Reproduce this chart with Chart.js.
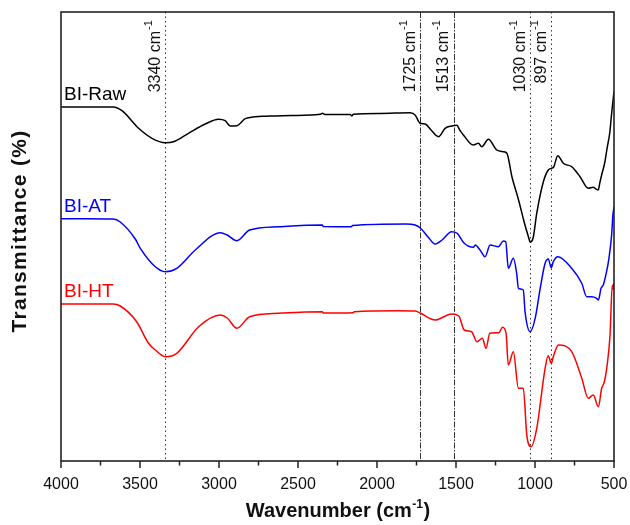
<!DOCTYPE html>
<html>
<head>
<meta charset="utf-8">
<title>FTIR spectra</title>
<script src="https://cdn.jsdelivr.net/npm/chart.js@4.4.0/dist/chart.umd.min.js"></script>
<style>
  body { margin: 0; background: #fff; }
  #wrap { width: 630px; height: 525px; }
</style>
</head>
<body>
<div id="wrap"><canvas id="myChart" width="630" height="525"></canvas></div>
<script>
// Spectra: wavenumber (cm-1) and stacked transmittance (arbitrary units)
const rawWave = [4000, 3846, 3669, 3614, 3509, 3424, 3340, 3288, 3193, 3087, 3003, 2961, 2929, 2887, 2834, 2771, 2708, 2540, 2360, 2345, 2330, 2170, 2160, 2150, 1980, 1790, 1759, 1727, 1695, 1658, 1611, 1569, 1527, 1495, 1474, 1443, 1411, 1390, 1358, 1337, 1295, 1242, 1200, 1178, 1146, 1104, 1067, 1043, 1030, 1012, 989, 947, 916, 897, 882, 856, 821, 768, 715, 663, 631, 614, 599, 590, 575, 559, 542, 527, 517, 506, 500];
const rawT = [354, 354, 354, 350.3, 332.7, 322.7, 318.3, 319.3, 327.7, 337, 341.7, 340.3, 335, 335.3, 342.3, 344.3, 344.7, 345.5, 346.7, 347.8, 346.5, 346.6, 345, 346.8, 347.5, 348.3, 346, 337.7, 337, 331, 324.3, 332.7, 335, 335.7, 330.3, 324, 317.7, 316, 317.7, 314.3, 321.7, 311, 309.3, 307.7, 284.3, 261, 238, 225, 219, 223, 247.7, 279.3, 291, 292.7, 294, 305.3, 297.7, 294.3, 284.3, 272.7, 273.7, 272, 271, 278, 288, 298, 314.3, 328, 344.3, 361, 369.3];

const atWave = [4000, 3846, 3670, 3625, 3530, 3498, 3403, 3340, 3267, 3150, 2991, 2948, 2887, 2806, 2622, 2346, 2340, 2162, 2155, 1816, 1759, 1724, 1677, 1632, 1588, 1528, 1493, 1448, 1390, 1378, 1348, 1316, 1284, 1232, 1200, 1185, 1169, 1137, 1116, 1105, 1074, 1063, 1031, 999, 967, 936, 916, 897, 884, 856, 768, 704, 673, 641, 610, 599, 582, 568, 547, 532, 515, 507, 500];
const atT = [242.3, 242.3, 242, 239, 222, 212.7, 194.3, 189.3, 192.7, 211, 228.3, 226, 220.3, 231, 234.3, 236, 234.5, 234.3, 235.5, 237, 236, 232.7, 224, 217, 221, 229.3, 227.7, 217.7, 213.7, 216, 211, 204.3, 216, 214.3, 220, 219.3, 192.7, 202.7, 187.7, 172.7, 171, 149.3, 129.3, 142.7, 172.7, 197.7, 202, 193.3, 199.3, 204.3, 192.7, 177.7, 164.3, 164.3, 162.7, 161, 172.7, 176, 189.3, 202.7, 226, 246, 254.3];

const htWave = [4000, 3846, 3670, 3625, 3521, 3446, 3403, 3340, 3267, 3129, 2991, 2948, 2887, 2806, 2622, 2346, 2340, 2150, 2145, 1862, 1759, 1724, 1632, 1528, 1482, 1448, 1402, 1367, 1333, 1310, 1286, 1229, 1205, 1183, 1169, 1137, 1105, 1074, 1052, 1025, 989, 936, 916, 897, 883, 852, 768, 704, 663, 631, 599, 578, 561, 546, 525, 511, 505, 500];
const htT = [157, 157, 157, 155, 139.3, 117.7, 111, 104.3, 107.7, 134.3, 146, 143, 132.7, 144.3, 147.7, 149.3, 148, 148.3, 149.3, 150.3, 150, 147.7, 141, 147, 145, 131, 129.3, 119.3, 122.7, 112.7, 127.7, 128.3, 133.7, 127.7, 96, 109.3, 72.7, 72.7, 26, 14.3, 32.7, 92.7, 105.3, 97.7, 105, 116, 109.3, 82.7, 62.7, 66, 54.3, 72.7, 79.3, 92.7, 126, 176, 172, 178];

const seriesNames = ['BI-Raw', 'BI-AT', 'BI-HT'];
const peakWaves = [3340, 1725, 1513, 1030, 897];
const xTicks = [4000, 3500, 3000, 2500, 2000, 1500, 1000, 500];

const FONT = 'Liberation Sans, Arial, Helvetica, sans-serif';
const colors = ['#000000', 'rgb(0,0,255)', 'rgb(255,0,0)'];

function toPoints(w, t) {
    return w.map((v, i) => ({ x: v, y: t[i] }));
}

// vertical peak markers, labels, curve names, box, ticks and axis titles
const decorPlugin = {
    id: 'decor',
    beforeDatasetsDraw(chart) {
        const ctx = chart.ctx;
        const x = chart.scales.x;
        const area = chart.chartArea;
        ctx.save();
        ctx.strokeStyle = '#333';
        ctx.lineWidth = 1;
        peakWaves.forEach(w => {
            const px = Math.round(x.getPixelForValue(w)) + 0.5;
            ctx.setLineDash(w === 1725 || w === 1513 ? [6, 1.5, 1.5, 1.5] : [1.5, 3]);
            ctx.beginPath();
            ctx.moveTo(px, area.top);
            ctx.lineTo(px, area.bottom);
            ctx.stroke();
        });
        ctx.setLineDash([]);
        ctx.fillStyle = '#111';
        peakWaves.forEach(w => {
            const px = x.getPixelForValue(w);
            ctx.save();
            ctx.translate(px - 5.5, 31);
            ctx.rotate(-Math.PI / 2);
            ctx.font = '16px ' + FONT;
            ctx.textAlign = 'right';
            ctx.textBaseline = 'alphabetic';
            ctx.fillText(w + ' cm', 0, 0);
            ctx.font = '11px ' + FONT;
            ctx.textAlign = 'left';
            ctx.fillText('-1', 1, -8);
            ctx.restore();
        });
        ctx.restore();
    },
    afterDraw(chart) {
        const ctx = chart.ctx;
        const x = chart.scales.x;
        const y = chart.scales.y;
        const area = chart.chartArea;
        ctx.save();
        // frame
        ctx.strokeStyle = '#222';
        ctx.lineWidth = 1.6;
        ctx.strokeRect(area.left, area.top, area.right - area.left, area.bottom - area.top);
        // major + minor ticks
        ctx.lineWidth = 1.5;
        for (let i = 0; i < xTicks.length; i++) {
            const px = x.getPixelForValue(xTicks[i]);
            ctx.beginPath();
            ctx.moveTo(px, area.bottom);
            ctx.lineTo(px, area.bottom + 7);
            ctx.stroke();
            if (i < xTicks.length - 1) {
                const mx = x.getPixelForValue((xTicks[i] + xTicks[i + 1]) / 2);
                ctx.beginPath();
                ctx.moveTo(mx, area.bottom);
                ctx.lineTo(mx, area.bottom + 4.5);
                ctx.stroke();
            }
        }
        // curve names
        ctx.font = '19px ' + FONT;
        ctx.textAlign = 'left';
        ctx.textBaseline = 'alphabetic';
        chart.data.datasets.forEach((ds, i) => {
            const py = y.getPixelForValue(ds.data[0].y);
            ctx.fillStyle = colors[i];
            ctx.fillText(seriesNames[i], area.left + 3, py - 7);
        });
        // x axis title with superscript
        ctx.fillStyle = '#111';
        const t1 = 'Wavenumber (cm', t2 = '-1', t3 = ')';
        const big = 'bold 20px ' + FONT, small = 'bold 12px ' + FONT;
        ctx.font = big;
        const w1 = ctx.measureText(t1).width, w3 = ctx.measureText(t3).width;
        ctx.font = small;
        const w2 = ctx.measureText(t2).width;
        const sx = (area.left + area.right) / 2 - (w1 + w2 + w3) / 2;
        const base = 517;
        ctx.font = big;
        ctx.fillText(t1, sx, base);
        ctx.font = small;
        ctx.fillText(t2, sx + w1 + 0.5, base - 9);
        ctx.font = big;
        ctx.fillText(t3, sx + w1 + w2 + 1, base);
        // y axis title
        ctx.save();
        ctx.translate(26, 231);
        ctx.rotate(-Math.PI / 2);
        ctx.font = 'bold 21px ' + FONT;
        if ('letterSpacing' in ctx) ctx.letterSpacing = '1.3px';
        ctx.textAlign = 'center';
        ctx.fillText('Transmittance (%)', 0, 0);
        ctx.restore();
        ctx.restore();
    }
};

Chart.defaults.font.family = FONT;
Chart.defaults.color = '#111';

const ctx = document.getElementById('myChart').getContext('2d');
const myChart = new Chart(ctx, {
    type: 'line',
    data: {
        datasets: [
            { label: seriesNames[0], data: toPoints(rawWave, rawT), borderColor: colors[0] },
            { label: seriesNames[1], data: toPoints(atWave, atT), borderColor: colors[1] },
            { label: seriesNames[2], data: toPoints(htWave, htT), borderColor: colors[2] }
        ]
    },
    options: {
        responsive: false,
        animation: false,
        layout: { padding: { top: 12, right: 16, left: 0, bottom: 0 } },
        elements: {
            point: { radius: 0 },
            line: { borderWidth: 1.5, cubicInterpolationMode: 'monotone', fill: false }
        },
        plugins: {
            legend: { display: false },
            tooltip: { enabled: false }
        },
        scales: {
            x: {
                type: 'linear',
                reverse: true,
                min: 500,
                max: 4000,
                afterBuildTicks: s => { s.ticks = xTicks.map(v => ({ value: v })); },
                afterFit: s => { s.height = 64; s.paddingLeft = 0; s.paddingRight = 0; },
                grid: { display: false, drawTicks: false },
                border: { display: false },
                ticks: {
                    padding: 14,
                    font: { size: 16 },
                    color: '#111',
                    maxRotation: 0,
                    callback: v => String(v)
                },
                title: { display: false }
            },
            y: {
                min: 0,
                max: 449,
                afterFit: s => { s.width = 61; },
                grid: { display: false, drawTicks: false },
                border: { display: false },
                ticks: { display: false },
                title: { display: false }
            }
        }
    },
    plugins: [decorPlugin]
});
</script>
</body>
</html>
